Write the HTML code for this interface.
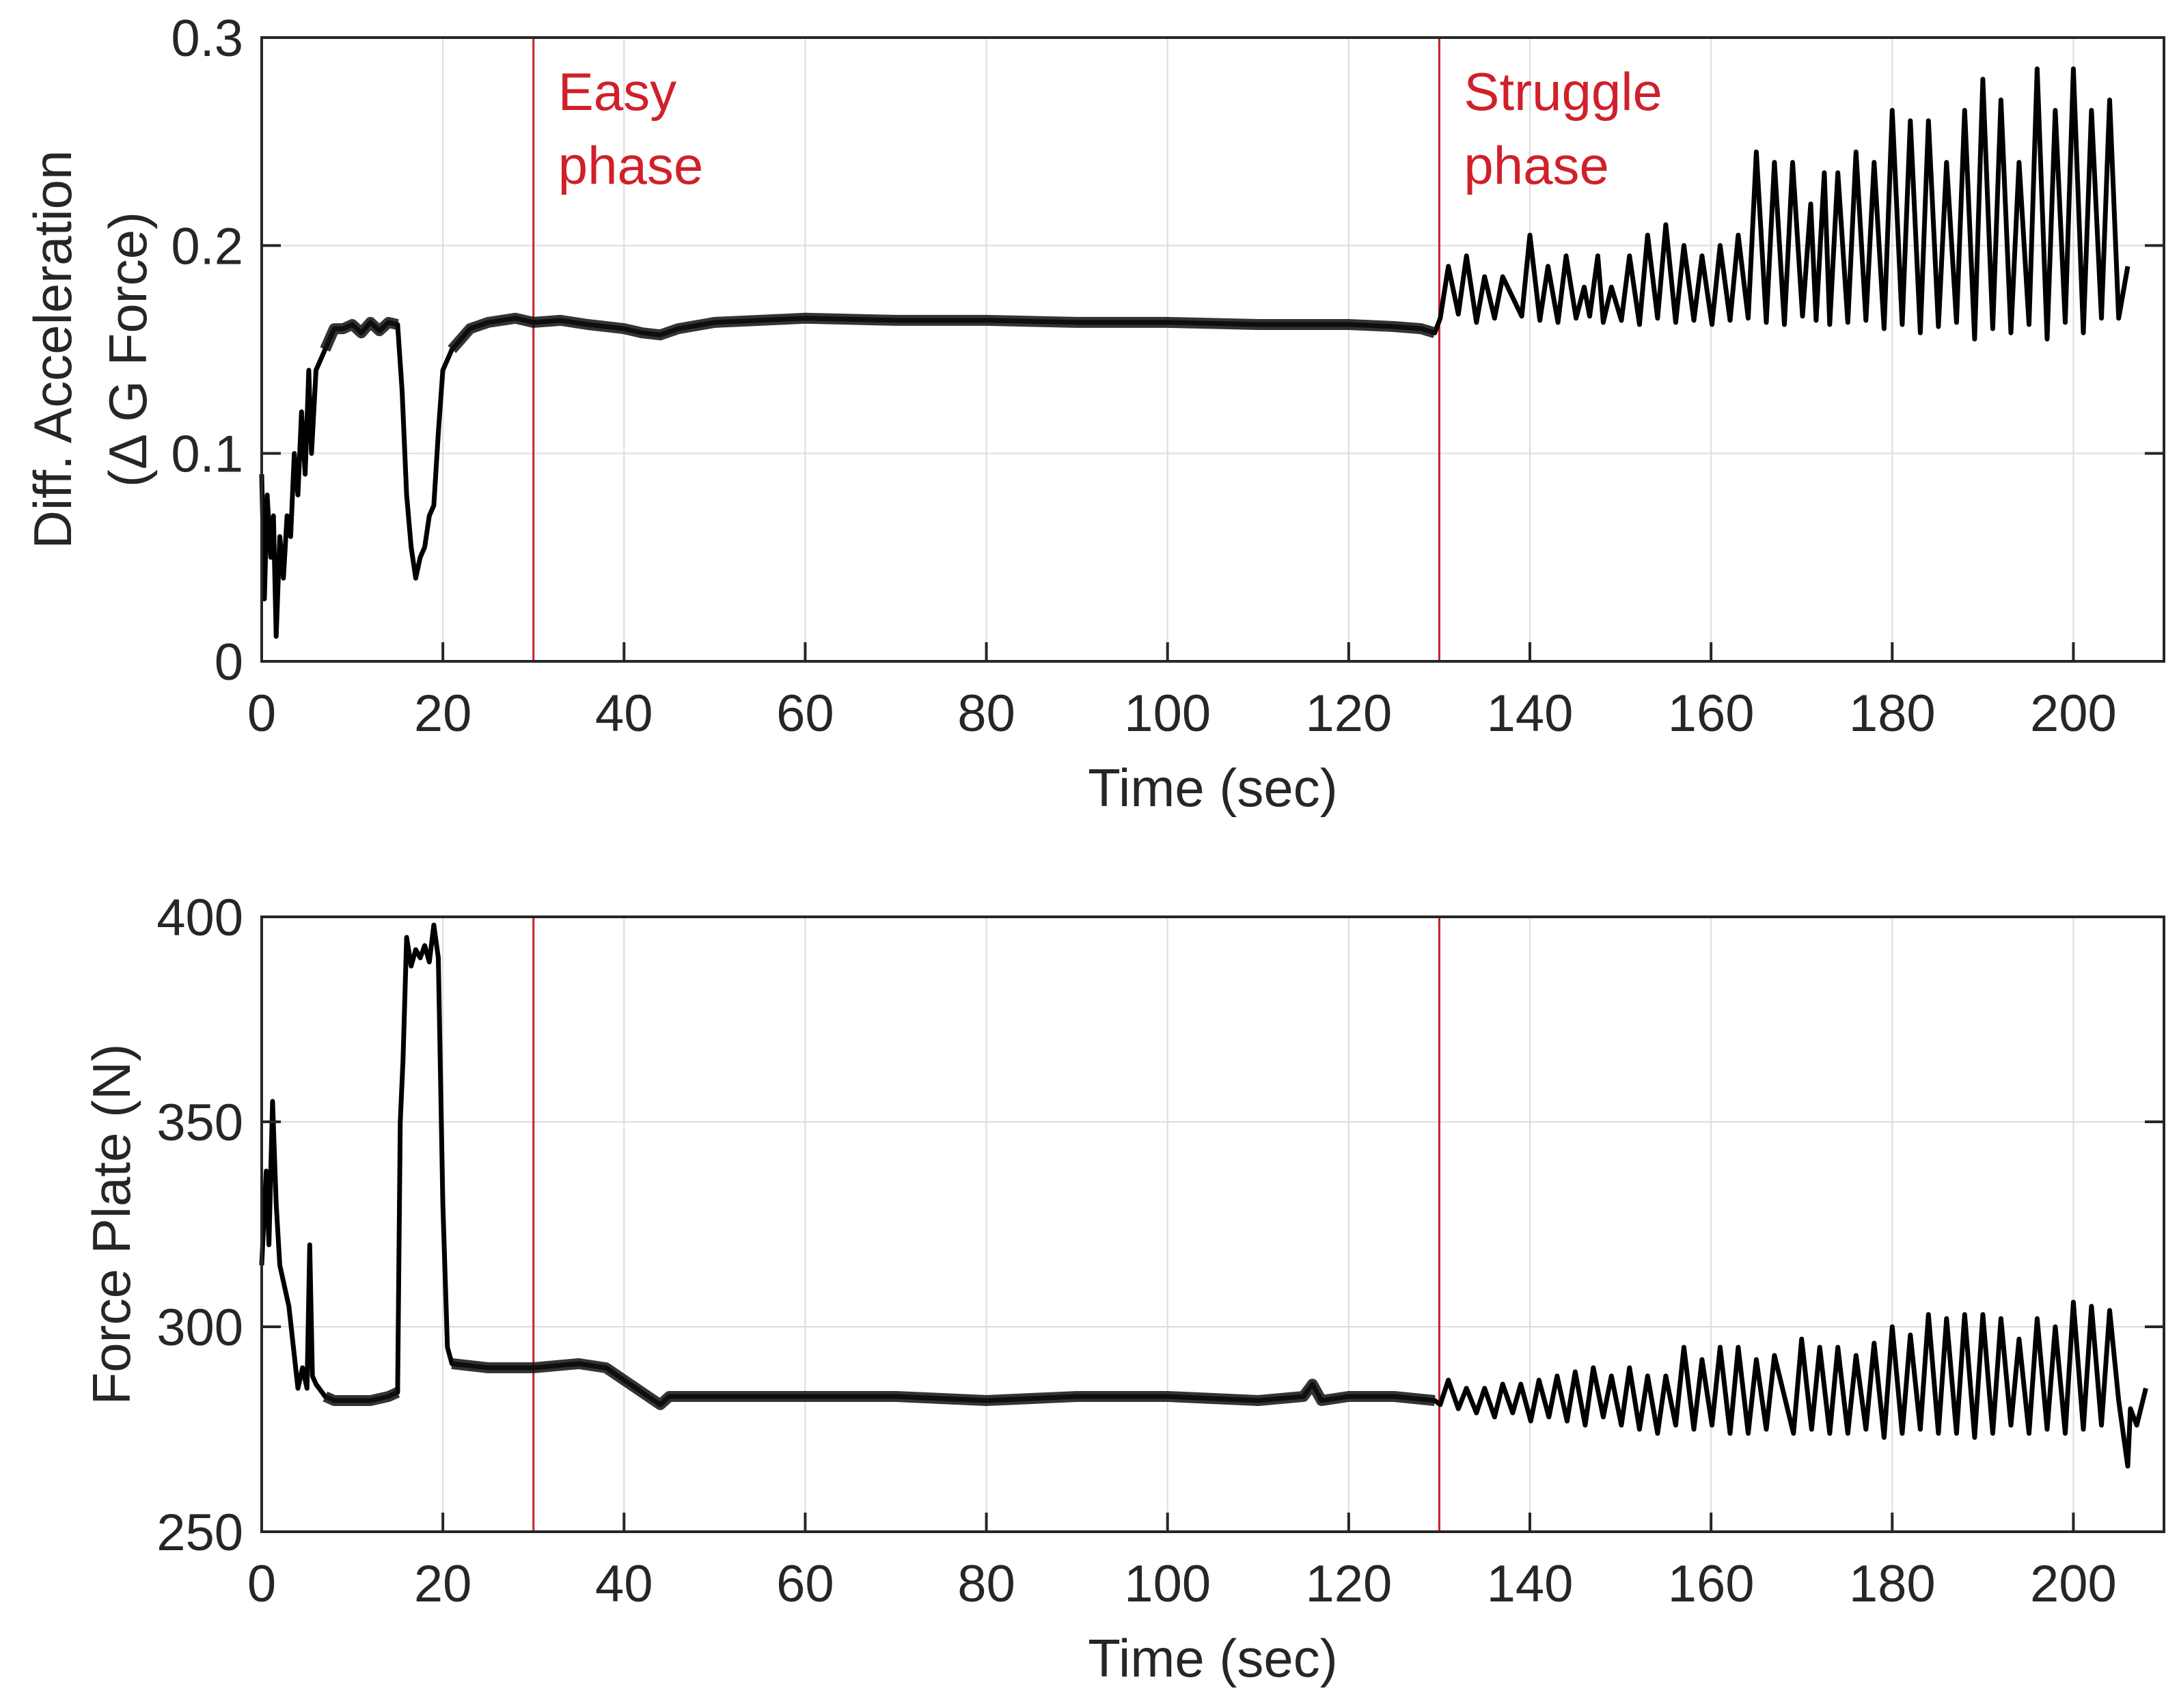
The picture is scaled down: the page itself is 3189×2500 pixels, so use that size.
<!DOCTYPE html>
<html><head><meta charset="utf-8">
<style>
html,body{margin:0;padding:0;background:#fff;}
svg{display:block;font-family:"Liberation Sans",Arial,sans-serif;}
</style></head>
<body>
<svg id="chart" width="3189" height="2500" viewBox="0 0 3189 2500"></svg>
<script>
// ---- data (top panel: differential acceleration) ----
const topTimes = [0,0.3,0.6,1,1.3,1.6,2,2.4,2.8,3.2,3.6,4,4.4,4.8,5.2,5.5,6,7,8,9,10,11,12,13,14,15,15.5,16,16.5,17,17.5,18,18.5,19,19.5,20,20.5,21,22,23,25,28,30,33,36,38,40,42,44,46,50,55,60,70,80,90,100,110,120,125,128,129.5];
const topValues = [0.09,0.03,0.08,0.05,0.07,0.012,0.06,0.04,0.07,0.06,0.1,0.08,0.12,0.09,0.14,0.1,0.14,0.15,0.16,0.16,0.162,0.158,0.163,0.159,0.163,0.162,0.13,0.08,0.055,0.04,0.05,0.055,0.07,0.075,0.11,0.14,0.145,0.15,0.155,0.16,0.163,0.165,0.163,0.164,0.162,0.161,0.16,0.158,0.157,0.16,0.163,0.164,0.165,0.164,0.164,0.163,0.163,0.162,0.162,0.161,0.16,0.158];
const topPeakTimes = [131,133,135,137,140,142,144,146,147.5,149,151,153,155,157,159,161,163,165,167,169,171,172.5,174,176,178,180,182,184,186,188,190,192,194,196,198,200,202,204];
const topPeakValues = [0.19,0.195,0.185,0.185,0.205,0.19,0.195,0.18,0.195,0.18,0.195,0.205,0.21,0.2,0.195,0.2,0.205,0.245,0.24,0.24,0.22,0.235,0.235,0.245,0.24,0.265,0.26,0.26,0.24,0.265,0.28,0.27,0.24,0.285,0.265,0.285,0.265,0.27];
const topTroughValues = [0.165,0.167,0.163,0.165,0.166,0.164,0.163,0.165,0.166,0.163,0.164,0.162,0.165,0.163,0.164,0.162,0.164,0.165,0.163,0.162,0.166,0.164,0.162,0.163,0.164,0.16,0.162,0.158,0.161,0.163,0.155,0.16,0.158,0.162,0.155,0.163,0.158,0.165];
const topEndTimes = [205,206];
const topEndValues = [0.165,0.19];

// ---- data (bottom panel: force plate) ----
const botTimes = [0,0.5,0.8,1.2,1.6,2,3,3.5,4,4.5,5,5.3,5.6,6,7,8,10,12,14,15,15.3,15.6,16,16.5,17,17.5,18,18.5,19,19.5,20,20.5,21,25,30,35,38,40,42,44,45,50,60,70,80,90,100,110,115,116,117,120,125,129.5];
const botValues = [315,338,320,355,330,315,305,295,285,290,285,320,288,286,283,282,282,282,283,284,350,365,395,388,392,390,393,389,398,390,330,295,291,290,290,291,290,287,284,281,283,283,283,283,282,283,283,282,283,286,282,283,283,282];
const botPeakTimes = [131,133,135,137,139,141,143,145,147,149,151,153,155,157,159,161,163,165,167,170,172,174,176,178,180,182,184,186,188,190,192,194,196,198,200,202,204];
const botPeakValues = [287,285,285,286,286,287,288,289,290,288,290,288,288,295,292,295,295,292,293,297,295,295,293,296,300,298,303,302,303,303,302,297,302,300,306,305,304];
const botTroughValues = [281,280,279,278,279,277,278,277,276,278,276,275,274,276,275,276,274,274,275,274,275,274,274,275,273,274,275,274,274,273,274,276,274,275,274,275,276];
const botEndTimes = [205,206,206.3,207,208];
const botEndValues = [282,266,280,276,285];

const xTicks = [0,20,40,60,80,100,120,140,160,180,200];
const topYTicks = [0,0.1,0.2,0.3];
const botYTicks = [250,300,350,400];
const phaseTimes = [30,130];

// ---- layout ----
const NS = "http://www.w3.org/2000/svg";
const svg = document.getElementById('chart');
const X0 = 383, X1 = 3167, XMIN = 0, XMAX = 210;
const xS = t => X0 + (t - XMIN) / (XMAX - XMIN) * (X1 - X0);
function mk(tag, attrs, parent){const e=document.createElementNS(NS,tag);for(const k in attrs)e.setAttribute(k,attrs[k]);(parent||svg).appendChild(e);return e;}

function buildSeries(times, vals, pT, pV, tV, eT, eV){
  const pts=[];
  for(let i=0;i<times.length;i++)pts.push([times[i],vals[i]]);
  for(let i=0;i<pT.length;i++){pts.push([pT[i]-0.9,tV[i]]);pts.push([pT[i],pV[i]]);}
  for(let i=0;i<eT.length;i++)pts.push([eT[i],eV[i]]);
  return pts;
}

function panel(name, top, bottom, ymin, ymax, yTicks, fmt, pts, ylabelLines, ylabelXs, showPhaseText, bands){
  const yS = v => bottom - (v - ymin)/(ymax - ymin)*(bottom - top);
  const g = mk('g',{});
  
  
  xTicks.forEach(t=>{const l=mk('line',{x1:xS(t),x2:xS(t),y1:top,y2:bottom,stroke:'#dcdcdc','stroke-width':2},g);
    });
  yTicks.forEach(v=>{const l=mk('line',{x1:X0,x2:X1,y1:yS(v),y2:yS(v),stroke:'#dcdcdc','stroke-width':2},g);
    });
  phaseTimes.forEach(t=>{const l=mk('line',{x1:xS(t),x2:xS(t),y1:top,y2:bottom,stroke:'#c8202a','stroke-width':3},g);
    });
  const d = pts.map((p,i)=>(i?'L':'M')+xS(p[0]).toFixed(1)+','+yS(p[1]).toFixed(1)).join(' ');
  const path = mk('path',{d:d,fill:'none',stroke:'#000','stroke-width':7,'stroke-linejoin':'round'},g);
  
  
  // noise band on plateau stretches
  bands.forEach(b=>{
    const sub = pts.filter(p=>p[0]>=b[0]&&p[0]<=b[1]);
    const bd = sub.map((p,i)=>(i?'L':'M')+xS(p[0]).toFixed(1)+','+yS(p[1]).toFixed(1)).join(' ');
    const bp = mk('path',{d:bd,fill:'none',stroke:'#111','stroke-width':16,'stroke-linejoin':'round','stroke-opacity':0.85},g);
    
    
  });
  const box = mk('rect',{x:X0,y:top,width:X1-X0,height:bottom-top,fill:'none',stroke:'#262626','stroke-width':4},g);
  
  
  xTicks.forEach(t=>{
    mk('line',{x1:xS(t),x2:xS(t),y1:bottom,y2:bottom-28,stroke:'#262626','stroke-width':4},g);
    const tx=mk('text',{x:xS(t),y:bottom+102,'font-size':76,'text-anchor':'middle',fill:'#262626'},g);
    tx.textContent=t;
    
    
  });
  yTicks.forEach(v=>{
    mk('line',{x1:X0,x2:X0+28,y1:yS(v),y2:yS(v),stroke:'#262626','stroke-width':4},g);
    mk('line',{x1:X1,x2:X1-28,y1:yS(v),y2:yS(v),stroke:'#262626','stroke-width':4},g);
    const tx=mk('text',{x:356,y:yS(v)+27,'font-size':76,'text-anchor':'end',fill:'#262626'},g);
    tx.textContent=fmt(v);
    
    
  });
  const xl=mk('text',{x:(X0+X1)/2,y:bottom+212,'font-size':78,'text-anchor':'middle',fill:'#262626'},g);
  xl.textContent='Time (sec)';
  
  
  const cy=(top+bottom)/2;
  ylabelLines.forEach((s,i)=>{
    const x=ylabelXs[i];
    const yl=mk('text',{x:x,y:cy,'font-size':78,'text-anchor':'middle',fill:'#262626',transform:`rotate(-90 ${x} ${cy})`,'dominant-baseline':'central'},g);
    yl.textContent=s;
    
    
  });
  if(showPhaseText){
    [['Easy','phase'],['Struggle','phase']].forEach((lines,j)=>{
      lines.forEach((s,i)=>{
        const tx=mk('text',{x:xS(phaseTimes[j])+36,y:top+106+i*108,'font-size':78,fill:'#d0202a'},g);
        tx.textContent=s;
        
        
      });
    });
  }
}

panel('acceleration',55,968,0,0.3,topYTicks,v=>v===0?'0':v.toFixed(1),
  buildSeries(topTimes,topValues,topPeakTimes,topPeakValues,topTroughValues,topEndTimes,topEndValues),
  ['Diff. Acceleration','(\u0394 G Force)'],[77,187],true,[[7,15],[21,130]]);
panel('force-plate',1342,2242,250,400,botYTicks,v=>String(v),
  buildSeries(botTimes,botValues,botPeakTimes,botPeakValues,botTroughValues,botEndTimes,botEndValues),
  ['Force Plate (N)'],[163],false,[[6.5,15],[21,130]]);
</script>
</body></html>
